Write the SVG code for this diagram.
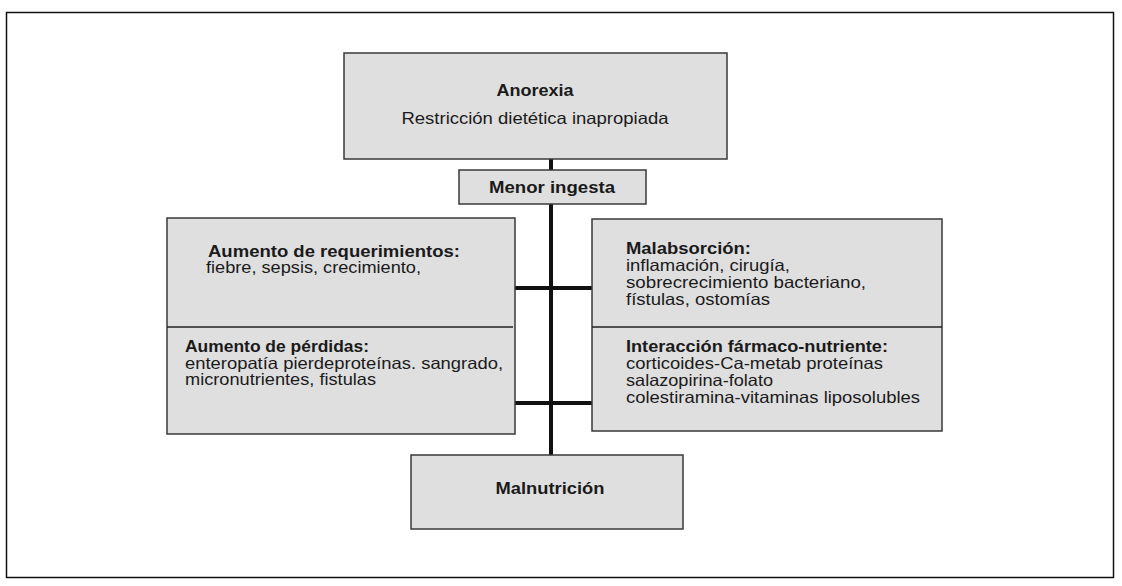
<svg xmlns="http://www.w3.org/2000/svg" width="1122" height="586" viewBox="0 0 1122 586">
<style>
.box{fill:#dfdfdf;stroke:#3a3a3a;stroke-width:1.5}
.div{stroke:#222;stroke-width:1.3}
.t{font-family:"Liberation Sans",Arial,sans-serif;font-size:16.5px;fill:#1a1a1a}
.b{font-weight:bold}
.c{text-anchor:middle}
.con{stroke:#111;stroke-width:4;fill:none}
</style>
<rect x="6.5" y="12.5" width="1107" height="565" fill="#fff" stroke="#111" stroke-width="1.5"/>
<g id="connectors">
<line class="con" x1="551" y1="159" x2="551" y2="455"/>
<line class="con" x1="515" y1="288" x2="592" y2="288" stroke-width="3"/>
<line class="con" x1="515" y1="403" x2="592" y2="403" stroke-width="3"/>
</g>
<g id="anorexia">
<rect class="box" x="344" y="53" width="383" height="106"/>
<text class="t b c" x="535" y="96" textLength="77" lengthAdjust="spacingAndGlyphs">Anorexia</text>
<text class="t c" x="535" y="124" textLength="267" lengthAdjust="spacingAndGlyphs">Restricción dietética inapropiada</text>
</g>
<g id="menor">
<rect class="box" x="459" y="170" width="187" height="34"/>
<text class="t b c" x="552" y="193" textLength="126" lengthAdjust="spacingAndGlyphs">Menor ingesta</text>
</g>
<g id="left">
<rect class="box" x="167" y="218" width="348" height="216"/>
<line class="div" x1="167" y1="327" x2="513" y2="327"/>
<text class="t b" x="208" y="257" textLength="252" lengthAdjust="spacingAndGlyphs">Aumento de requerimientos:</text>
<text class="t" x="206" y="273" textLength="215" lengthAdjust="spacingAndGlyphs">fiebre, sepsis, crecimiento,</text>
<text class="t b" x="185" y="352" textLength="184" lengthAdjust="spacingAndGlyphs">Aumento de pérdidas:</text>
<text class="t" x="185" y="369" textLength="318" lengthAdjust="spacingAndGlyphs">enteropatía pierdeproteínas. sangrado,</text>
<text class="t" x="185" y="385" textLength="191" lengthAdjust="spacingAndGlyphs">micronutrientes, fistulas</text>
</g>
<g id="right">
<rect class="box" x="592" y="219" width="350" height="212"/>
<line class="div" x1="592" y1="327" x2="942" y2="327"/>
<text class="t b" x="626" y="254" textLength="125" lengthAdjust="spacingAndGlyphs">Malabsorción:</text>
<text class="t" x="626" y="271" textLength="164" lengthAdjust="spacingAndGlyphs">inflamación, cirugía,</text>
<text class="t" x="626" y="288" textLength="240" lengthAdjust="spacingAndGlyphs">sobrecrecimiento bacteriano,</text>
<text class="t" x="626" y="305" textLength="144" lengthAdjust="spacingAndGlyphs">fístulas, ostomías</text>
<text class="t b" x="626" y="352" textLength="262" lengthAdjust="spacingAndGlyphs">Interacción fármaco-nutriente:</text>
<text class="t" x="626" y="369" textLength="257" lengthAdjust="spacingAndGlyphs">corticoides-Ca-metab proteínas</text>
<text class="t" x="626" y="386" textLength="147" lengthAdjust="spacingAndGlyphs">salazopirina-folato</text>
<text class="t" x="626" y="403" textLength="294" lengthAdjust="spacingAndGlyphs">colestiramina-vitaminas liposolubles</text>
</g>
<g id="malnutricion">
<rect class="box" x="411" y="455" width="272" height="74"/>
<text class="t b c" x="550" y="494" textLength="109" lengthAdjust="spacingAndGlyphs">Malnutrición</text>
</g>
</svg>
